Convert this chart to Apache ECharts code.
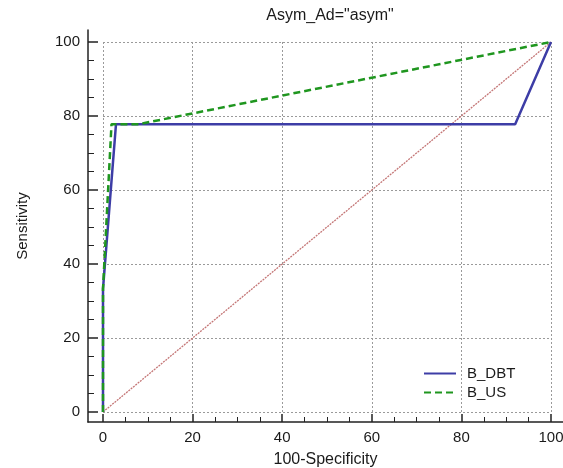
<!DOCTYPE html>
<html>
<head>
<meta charset="utf-8">
<style>
  html, body { margin: 0; padding: 0; background: #fff; }
  #chart { width: 563px; height: 468px; }
</style>
<script src="https://cdn.jsdelivr.net/npm/echarts@6/dist/echarts.min.js"></script>
</head>
<body>
<div id="chart"></div>
<script>
"use strict";

// ROC points (x = 100-Specificity, y = Sensitivity)
const dbtX = [0, 0, 2.9, 92, 100];
const dbtY = [0, 33.3, 77.8, 77.8, 100];
const usX  = [0, 0, 1.9, 8, 100];
const usY  = [0, 33.3, 77.8, 77.8, 100];
const refX = [0, 100];
const refY = [0, 100];
const seriesNames = ["B_DBT", "B_US"];
const majorTicks = [0, 20, 40, 60, 80, 100];

const FONT = "Liberation Sans, Arial, sans-serif";
const INK = "#1a1a1a";
const AXIS = "#222";
const W = 563, H = 468;

// plot box (data, gridlines) and the larger frame box that carries the
// detached axis lines, ticks and labels
const plot  = { left: 103, right: 12, top: 42, bottom: 56 };
const frame = { left: 88,  right: 0,  top: 30, bottom: 46 };

const pairs = (xs, ys) => xs.map((x, i) => [x, ys[i]]);
const minorTicks = [];
majorTicks.slice(1).forEach((v, i) => {
  const a = majorTicks[i], step = (v - a) / 4;
  for (let k = 1; k < 4; k++) minorTicks.push(a + k * step);
});

// frame-axis extent so that 0..100 lands exactly on the plot box
const plotW = W - plot.left - plot.right, plotH = H - plot.top - plot.bottom;
const xPer = plotW / 100, yPer = plotH / 100;
const fxMin = -(plot.left - frame.left) / xPer;
const fxMax = 100 + (plot.right - frame.right) / xPer;
const fyMin = -(plot.bottom - frame.bottom) / yPer;
const fyMax = 100 + (plot.top - frame.top) / yPer;

const plotAxis = {
  type: "value", gridIndex: 0, min: 0, max: 100, interval: 20,
  axisLine: { show: false }, axisTick: { show: false }, axisLabel: { show: false },
  splitLine: { show: true, lineStyle: { color: "#9a9a9a", type: [2, 2], width: 1 } },
};
const labelStyle = { color: INK, fontFamily: FONT, fontSize: 15 };

const option = {
  animation: false,
  backgroundColor: "#fff",
  title: {
    text: 'Asym_Ad="asym"', left: 325, top: 3, textAlign: "center",
    textStyle: { color: INK, fontFamily: FONT, fontSize: 16, fontWeight: "normal" },
  },
  legend: {
    data: seriesNames, orient: "vertical", left: 423, top: 366, padding: 0,
    itemWidth: 32, itemHeight: 14, itemGap: 4,
    itemStyle: { opacity: 0 },
    textStyle: { color: INK, fontFamily: FONT, fontSize: 15, padding: [0, 0, 0, 6] },
  },
  grid: [
    Object.assign({ outerBoundsMode: "none", containLabel: false }, plot),
    Object.assign({ outerBoundsMode: "none", containLabel: false }, frame),
  ],
  xAxis: [
    plotAxis,
    {
      type: "value", gridIndex: 1, min: fxMin, max: fxMax, position: "bottom",
      axisLine: { show: true, onZero: false, lineStyle: { color: AXIS, width: 1.5 } },
      axisTick: { inside: true, length: 8, customValues: majorTicks, lineStyle: { color: AXIS, width: 1.5 } },
      axisLabel: Object.assign({ customValues: majorTicks, margin: 8 }, labelStyle),
      splitLine: { show: false },
      name: "100-Specificity", nameLocation: "middle", nameGap: 30,
      nameTextStyle: { color: INK, fontFamily: FONT, fontSize: 16 },
    },
    {
      type: "value", gridIndex: 1, min: fxMin, max: fxMax, position: "bottom",
      axisLine: { show: false, onZero: false },
      axisTick: { inside: true, length: 5, customValues: minorTicks, lineStyle: { color: AXIS, width: 1 } },
      axisLabel: { show: false }, splitLine: { show: false },
    },
  ],
  yAxis: [
    plotAxis,
    {
      type: "value", gridIndex: 1, min: fyMin, max: fyMax, position: "left",
      axisLine: { show: true, onZero: false, lineStyle: { color: AXIS, width: 1.5 } },
      axisTick: { inside: true, length: 10, customValues: majorTicks, lineStyle: { color: AXIS, width: 1.5 } },
      axisLabel: Object.assign({ customValues: majorTicks, margin: 8 }, labelStyle),
      splitLine: { show: false },
      name: "Sensitivity", nameLocation: "middle", nameGap: 58,
      nameTextStyle: { color: INK, fontFamily: FONT, fontSize: 15 },
    },
    {
      type: "value", gridIndex: 1, min: fyMin, max: fyMax, position: "left",
      axisLine: { show: false, onZero: false },
      axisTick: { inside: true, length: 6, customValues: minorTicks, lineStyle: { color: AXIS, width: 1 } },
      axisLabel: { show: false }, splitLine: { show: false },
    },
  ],
  series: [
    {
      name: "ref", type: "line", data: pairs(refX, refY), symbol: "none", silent: true,
      lineStyle: { color: "#c47676", width: 1.3, type: [2, 1] }, z: 1,
    },
    {
      name: seriesNames[0], type: "line", data: pairs(dbtX, dbtY), symbol: "none",
      lineStyle: { color: "#3d3da6", width: 2.5 }, itemStyle: { color: "#3d3da6" }, z: 2,
    },
    {
      name: seriesNames[1], type: "line", data: pairs(usX, usY), symbol: "none",
      lineStyle: { color: "#1f961f", width: 2.5, type: [7, 4] }, itemStyle: { color: "#1f961f" }, z: 3,
    },
  ],
};

const chart = echarts.init(document.getElementById("chart"), null, { renderer: "canvas" });
chart.setOption(option);
</script>
</body>
</html>
